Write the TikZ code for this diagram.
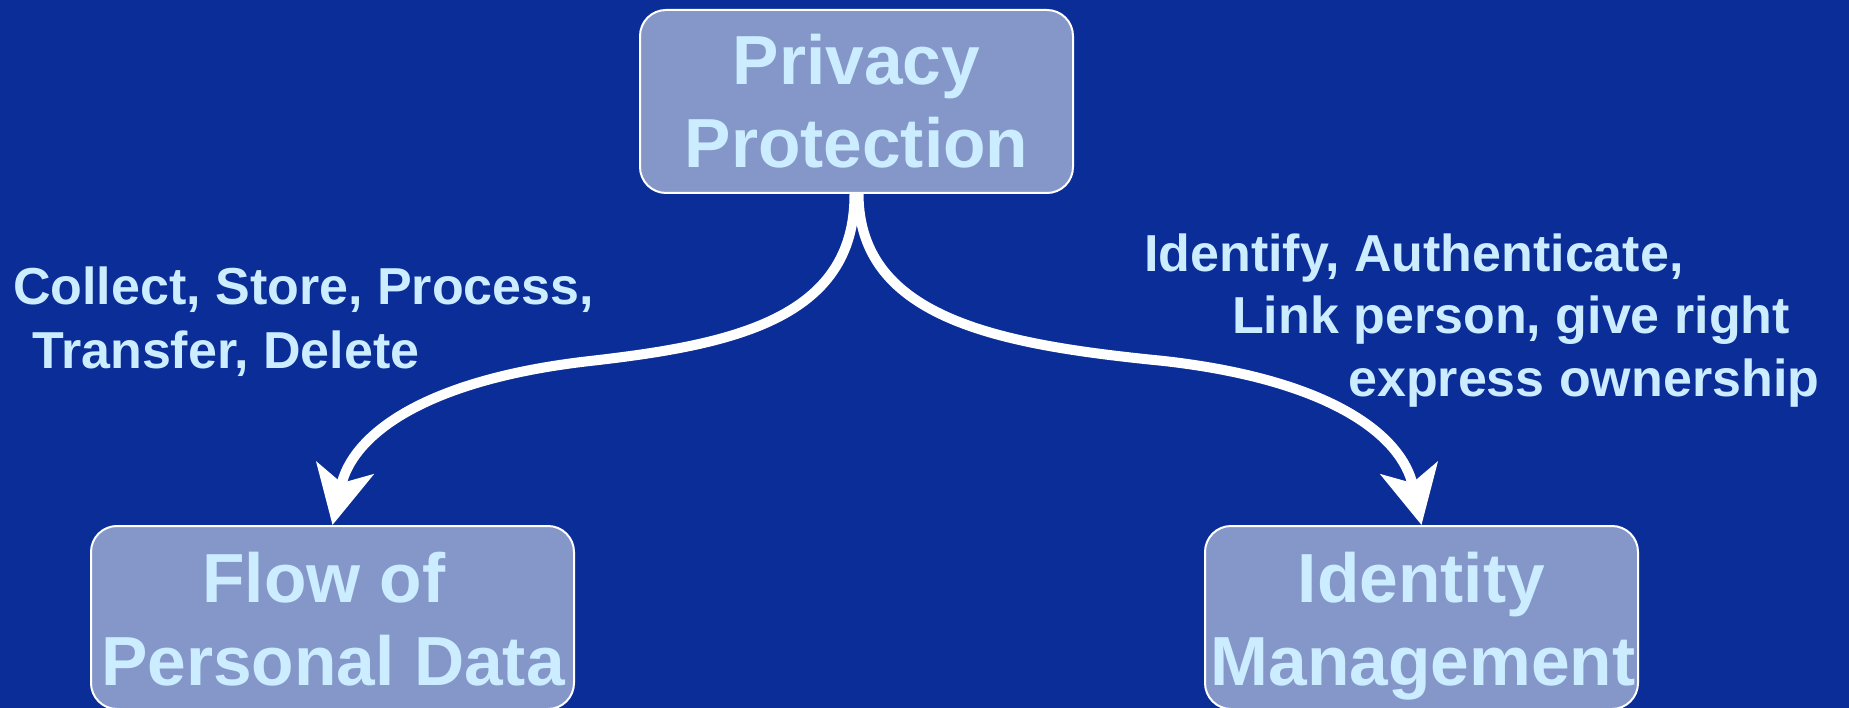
\documentclass[tikz,border=0pt]{standalone}
\usepackage{fontspec}
\setmainfont{Liberation Sans}
\usetikzlibrary{arrows.meta}
\definecolor{bg}{RGB}{10,45,152}
\definecolor{boxfill}{RGB}{133,151,201}
\definecolor{txt}{RGB}{204,236,255}
\begin{document}
\begin{tikzpicture}[x=1pt,y=-1pt,
  box/.style={draw=white,line width=2pt,fill=boxfill,rounded corners=26pt,minimum width=433pt,minimum height=183pt,inner sep=0pt},
  boxtext/.style={anchor=base,inner sep=0pt,text=txt,font=\fontsize{69.5}{83}\selectfont\bfseries},
  lbl/.style={anchor=base west,inner sep=0pt,text=txt,font=\fontsize{52}{63}\selectfont\bfseries},
  conn/.style={draw=white,line width=10pt,-{Stealth[length=58pt,width=58pt,inset=15pt]}}]
\fill[bg] (0,0) rectangle (1849,708);
\useasboundingbox (0,0) rectangle (1849,708);

% boxes
\node[box] (pp) at (856.5,101.5) {};
\node[box,minimum width=483pt] (fp) at (332.5,617.5) {};
\node[box] (im) at (1421.5,617.5) {};

% box texts
\node[boxtext] (pp1) at (856.5,85) {Privacy};
\node[boxtext] (pp2) at (856.5,168) {Protection};
\node[boxtext] (fp1) at (324,602) {Flow of};
\node[boxtext] (fp2) at (333,685) {Personal Data};
\node[boxtext] (im1) at (1421.5,602) {Identity};
\node[boxtext] (im2) at (1423,685) {Management};

% labels
\node[lbl] (l1) at (13,305) {Collect, Store, Process,};
\node[lbl] (l2) at (32,368) {Transfer, Delete};
\node[lbl] (r1) at (1144,272) {Identify, Authenticate,};
\node[lbl] (r2) at (1232,334) {Link person, give right};
\node[lbl] (r3) at (1348,396) {express ownership};

% connectors
\draw[conn] ([xshift=-2pt]pp.south) .. controls (855,320) and (730,345) .. (590,361)
   .. controls (422,380) and (352,436) .. (fp.north);
\draw[conn] ([xshift=2pt]pp.south) .. controls (859,320) and (1003,345) .. (1164,361)
   .. controls (1332,380) and (1402,436) .. (im.north);
\end{tikzpicture}
\end{document}
